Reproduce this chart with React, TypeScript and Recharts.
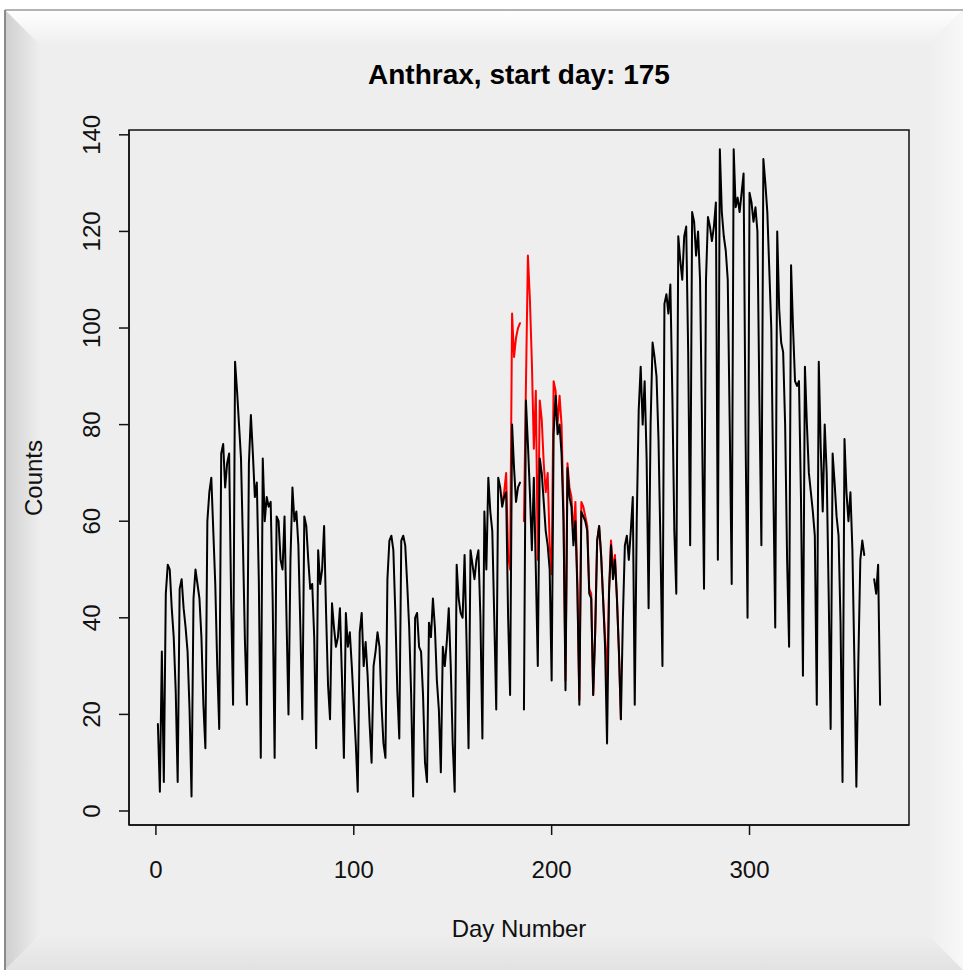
import React from 'react';
import { LineChart, Line, XAxis, YAxis, ReferenceArea } from 'recharts';

const FIRST_DAY = 1;

// Daily counts (baseline), day 1 .. 366 ; null = missing day
const baselineCounts: (number | null)[] = [
  18, 4, 33, 6,
  45, 51, 50, 42, 36, 25, 6,
  46, 48, 42, 38, 33, 21, 3,
  44, 50, 47, 44, 36, 22, 13,
  60, 66, 69, 58, 47, 30, 17,
  74, 76, 67, 72, 74, 44, 22,
  93, 87, 80, 73, 55, 35, 22,
  72, 82, 74, 65, 68, 48, 11,
  73, 60, 65, 63, 64, 44, 11,
  61, 60, 52, 50, 61, 40, 20,
  52, 67, 60, 62, 55, 38, 19,
  61, 59, 52, 46, 47, 36, 13,
  54, 47, 50, 59, 41, 26, 19,
  43, 38, 34, 36, 42, 28, 11,
  41, 34, 37, 30, 22, 14, 4,
  37, 41, 30, 35, 28, 18, 10,
  30, 33, 37, 34, 22, 14, 11,
  48, 56, 57, 54, 41, 25, 15,
  56, 57, 55, 47, 38, 24, 3,
  40, 41, 34, 33, 24, 10, 6,
  39, 36, 44, 38, 27, 21, 8,
  34, 30, 35, 42, 30, 14, 4,
  51, 44, 41, 40, 53, 35, 13,
  54, 51, 48, 52, 54, 40, 15,
  62, 50, 69, 62, 58, 40, 21,
  69, 67, 63, 65, 66, 40, 24,
  80, 71, 64, 67, 68, null, 21,
  85, 76, 66, 54, 69, 50, 30,
  73, 70, 64, 58, 55, 50, 27,
  78, 86, 78, 80, 74, 60, 25,
  71, 65, 63, 55, 60, 46, 22,
  62, 61, 60, 58, 45, 44, 24,
  37, 56, 59, 53, 44, 34, 14,
  45, 55, 48, 52, 44, 33, 19,
  40, 55, 57, 52, 58, 65, 22,
  60, 83, 92, 80, 89, 73, 42,
  80, 97, 94, 90, 77, 55, 30,
  105, 107, 103, 109, 86, 58, 45,
  119, 114, 110, 119, 121, 95, 55,
  124, 122, 115, 120, 110, 80, 46,
  110, 123, 121, 118, 121, 126, 52,
  137, 124, 119, 116, 110, 80, 47,
  137, 125, 127, 124, 128, 132, 78,
  40, 128, 126, 122, 125, 120, 85,
  55, 135, 130, 124, 112, 100, 68,
  38, 120, 104, 97, 95, 80, 52,
  34, 113, 100, 89, 88, 89, 65,
  28, 92, 80, 70, 66, 62, 57,
  22, 93, 75, 62, 80, 70, 45,
  17, 74, 68, 61, 57, 39, 6,
  77, 66, 60, 66, 54, 31, 5,
  31, 52, 56, 53, null, null, null,
  null, 48, 45, 51, 22,
];

// Counts including simulated anthrax cases, from the start day on
const OUTBREAK_START = 175;
const outbreakCounts: (number | null)[] = [
  64, 66, 70, 53, 50,
  103, 94, 98, 100, 101, null, 60,
  88, 115, 106, 93, 75, 87, 52,
  85, 81, 72, 66, 70, 55, 49,
  89, 87, 80, 86, 80, 62, 27,
  72, 67, 65, 57, 64, 47, 23,
  64, 63, 61, 59, 46, 45, 24,
  37, 56, 59, 53, 44, 36, 27,
  46, 56, 50, 53, 44, 33, 19,
];

const xTicks = [0, 100, 200, 300];
const yTicks = [0, 20, 40, 60, 80, 100, 120, 140];
const xDomain: [number, number] = [-13.6, 380.6];
const yDomain: [number, number] = [-2.9, 141];
const titleText = 'Anthrax, start day: 175';
const xLabel = 'Day Number';
const yLabel = 'Counts';

const data = baselineCounts.map((v, i) => {
  const day = FIRST_DAY + i;
  const j = day - OUTBREAK_START;
  return {
    day,
    base: v,
    outbreak: j >= 0 && j < outbreakCounts.length ? outbreakCounts[j] : null,
  };
});

const FONT = '"Liberation Sans", Arial, Helvetica, sans-serif';
const TEXT = '#111';

const XTick = (props: any) => (
  <text x={props.x} y={props.y} dy="0.71em" textAnchor="middle" fontSize={24} fill={TEXT} fontFamily={FONT}>
    {props.payload.value}
  </text>
);

const YTick = (props: any) => (
  <text
    x={props.x}
    y={props.y}
    transform={`rotate(-90 ${props.x} ${props.y})`}
    textAnchor="middle"
    fontSize={24}
    fill={TEXT}
    fontFamily={FONT}
  >
    {props.payload.value}
  </text>
);

const W = 963;
const H = 970;

const Frame = () => (
  <svg width={W} height={H} style={{ position: 'absolute', left: 0, top: 0 }}>
    <defs>
      <linearGradient id="gTop" x1="0" y1="0" x2="0" y2="1">
        <stop offset="0" stopColor="#ffffff" />
        <stop offset="1" stopColor="#eeeeee" />
      </linearGradient>
      <linearGradient id="gLeft" x1="0" y1="0" x2="1" y2="0">
        <stop offset="0" stopColor="#cfcfcf" />
        <stop offset="1" stopColor="#eeeeee" />
      </linearGradient>
      <linearGradient id="gRight" x1="1" y1="0" x2="0" y2="0">
        <stop offset="0" stopColor="#f8f8f8" />
        <stop offset="1" stopColor="#eeeeee" />
      </linearGradient>
      <linearGradient id="gBottom" x1="0" y1="1" x2="0" y2="0">
        <stop offset="0" stopColor="#e2e2e2" />
        <stop offset="1" stopColor="#eeeeee" />
      </linearGradient>
    </defs>
    <rect x={0} y={0} width={W} height={H} fill="#ffffff" />
    <rect x={5} y={10} width={W - 5} height={H - 10} fill="#eeeeee" />
    <polygon points={`5,10 ${W},10 ${W - 35},45 40,45`} fill="url(#gTop)" />
    <polygon points={`5,10 40,45 40,${H - 35} 5,${H}`} fill="url(#gLeft)" />
    <polygon points={`${W},10 ${W},${H} ${W - 35},${H - 35} ${W - 35},45`} fill="url(#gRight)" />
    <polygon points={`5,${H} ${W},${H} ${W - 35},${H - 35} 40,${H - 35}`} fill="url(#gBottom)" />
    <line x1={5} y1={10} x2={W} y2={10} stroke="#9a9a9a" strokeWidth={1.5} />
    <line x1={5} y1={10} x2={5} y2={H} stroke="#8a8a8a" strokeWidth={2} />
  </svg>
);

export default function App() {
  return (
    <div style={{ position: 'absolute', left: 0, top: 0, width: W, height: H, overflow: 'hidden' }}>
      <Frame />
      <div style={{ position: 'absolute', left: 0, top: 0 }}>
        <LineChart width={W} height={H} data={data} margin={{ top: 130, right: 54, bottom: 85, left: 69 }}>
          <XAxis
            dataKey="day"
            type="number"
            domain={xDomain}
            ticks={xTicks}
            interval={0}
            allowDataOverflow
            height={60}
            tickSize={10}
            tickMargin={26}
            tick={<XTick />}
            axisLine={{ stroke: '#111', strokeWidth: 1.5 }}
            tickLine={{ stroke: '#111', strokeWidth: 1.5 }}
          />
          <YAxis
            type="number"
            domain={yDomain}
            ticks={yTicks}
            interval={0}
            allowDataOverflow
            width={60}
            tickSize={10}
            tickMargin={19}
            tick={<YTick />}
            axisLine={{ stroke: '#111', strokeWidth: 1.5 }}
            tickLine={{ stroke: '#111', strokeWidth: 1.5 }}
          />
          <Line
            dataKey="outbreak"
            type="linear"
            stroke="#ff0000"
            strokeWidth={2}
            dot={false}
            activeDot={false}
            connectNulls={false}
            isAnimationActive={false}
            strokeLinejoin="round"
            strokeLinecap="round"
          />
          <Line
            dataKey="base"
            type="linear"
            stroke="#000000"
            strokeWidth={2}
            dot={false}
            activeDot={false}
            connectNulls={false}
            isAnimationActive={false}
            strokeLinejoin="round"
            strokeLinecap="round"
          />
          <ReferenceArea
            x1={xDomain[0]}
            x2={xDomain[1]}
            y1={yDomain[0]}
            y2={yDomain[1]}
            fill="none"
            fillOpacity={0}
            stroke="#111"
            strokeWidth={1.5}
            ifOverflow="visible"
          />
        </LineChart>
      </div>
      <svg width={W} height={H} style={{ position: 'absolute', left: 0, top: 0, pointerEvents: 'none' }}>
        <text x={519} y={84} textAnchor="middle" fontSize={28} fontWeight="bold" fill="#000" fontFamily={FONT}>
          {titleText}
        </text>
        <text x={519} y={937} textAnchor="middle" fontSize={24} fill={TEXT} fontFamily={FONT}>
          {xLabel}
        </text>
        <text
          x={42}
          y={478}
          transform="rotate(-90 42 478)"
          textAnchor="middle"
          fontSize={24}
          fill={TEXT}
          fontFamily={FONT}
        >
          {yLabel}
        </text>
      </svg>
    </div>
  );
}
